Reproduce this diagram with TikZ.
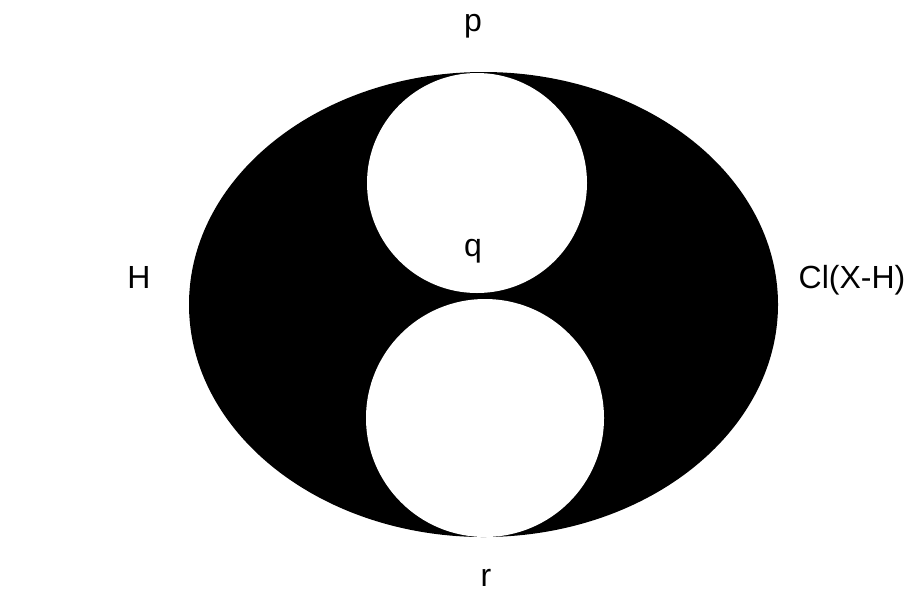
\documentclass[tikz,border=0pt]{standalone}
\usepackage{fontspec}
\setmainfont{Liberation Sans}
\begin{document}
\begin{tikzpicture}[x=0.75pt, y=-0.75pt, lbl/.style={anchor=base, inner sep=0pt, font=\fontsize{24}{28}\selectfont}]
    \useasboundingbox (0,0) rectangle (909,594);
    \coordinate (E) at (483.5,304.5);
    \coordinate (Up) at (477,183);
    \coordinate (Low) at (485,418);

    \fill[black] (E) ellipse [x radius=294.5, y radius=232.5];
    \fill[white] (Up) circle [radius=110];
    \fill[white] (Low) circle [radius=119];

    \node[lbl] (p) at (473,31) {p};
    \node[lbl] (q) at (473,256) {q};
    \node[lbl] (r) at (486,586) {r};
    \node[lbl] (H) at (139,288) {H};
    \node[lbl] (cl) at (852,288) {Cl(X-H)};
\end{tikzpicture}
\end{document}
